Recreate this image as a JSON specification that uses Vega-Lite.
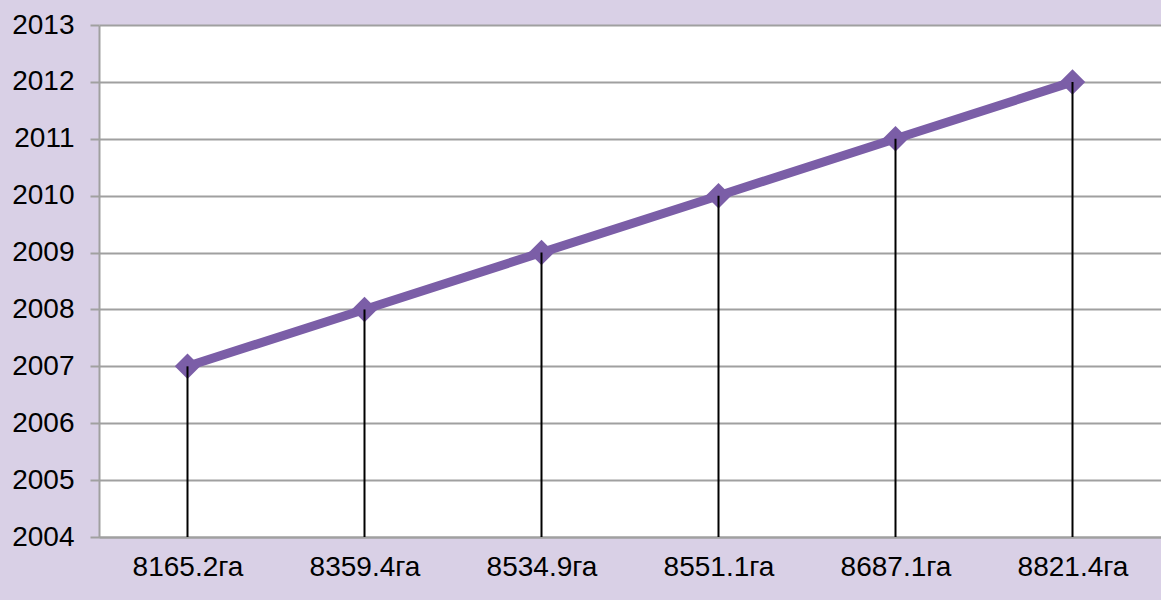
{
  "$schema": "https://vega.github.io/schema/vega-lite/v6.json",
  "width": 1062,
  "height": 512,
  "autosize": {"type": "none"},
  "padding": {"left": 99, "top": 25, "right": 0, "bottom": 63},
  "background": "#D9D0E6",
  "config": {
    "view": {"fill": "white", "stroke": null},
    "font": "Liberation Sans"
  },
  "data": {
    "values": [
      {"area": "8165.2га", "year": 2007},
      {"area": "8359.4га", "year": 2008},
      {"area": "8534.9га", "year": 2009},
      {"area": "8551.1га", "year": 2010},
      {"area": "8687.1га", "year": 2011},
      {"area": "8821.4га", "year": 2012}
    ]
  },
  "encoding": {
    "x": {
      "field": "area",
      "type": "ordinal",
      "sort": null,
      "scale": {"type": "point", "padding": 0.5},
      "axis": {
        "title": null,
        "labelAngle": 0,
        "labelFontSize": 28,
        "labelColor": "black",
        "labelFont": "Liberation Sans",
        "ticks": false,
        "labelPadding": 16,
        "domainColor": "#A0A0A0",
        "domainWidth": 2,
        "grid": false
      }
    },
    "y": {
      "field": "year",
      "type": "quantitative",
      "scale": {"domain": [2004, 2013], "nice": false, "zero": false},
      "axis": {
        "title": null,
        "values": [2004, 2005, 2006, 2007, 2008, 2009, 2010, 2011, 2012, 2013],
        "format": "d",
        "labelFontSize": 28,
        "labelColor": "black",
        "labelFont": "Liberation Sans",
        "tickSize": 9,
        "tickColor": "#A0A0A0",
        "tickWidth": 2,
        "labelPadding": 16,
        "domainColor": "#A0A0A0",
        "domainWidth": 2,
        "grid": true,
        "gridColor": "#A0A0A0",
        "gridWidth": 2,
        "gridOpacity": 1
      }
    }
  },
  "layer": [
    {
      "mark": {"type": "line", "color": "#7B5EA7", "strokeWidth": 9}
    },
    {
      "mark": {"type": "point", "shape": "diamond", "filled": true, "color": "#7B5EA7", "size": 650, "opacity": 1}
    },
    {
      "mark": {"type": "rule", "color": "black", "strokeWidth": 2},
      "encoding": {"y2": {"datum": 2004}}
    }
  ]
}
